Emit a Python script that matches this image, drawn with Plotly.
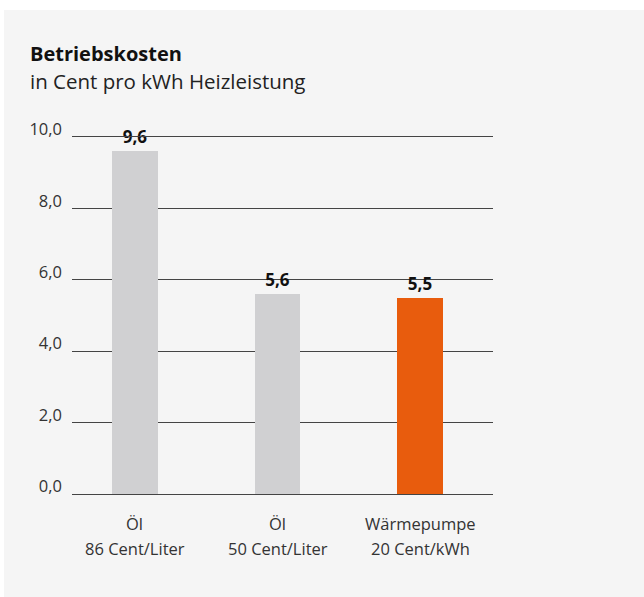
import plotly.graph_objects as go

# Operating costs per kWh of heat output
categories = ["Öl", "Öl", "Wärmepumpe"]
prices = ["86 Cent/Liter", "50 Cent/Liter", "20 Cent/kWh"]
costs = [9.6, 5.6, 5.5]
bar_colors = ["#d0d0d2", "#d0d0d2", "#e85c0d"]
y_ticks = [0, 2, 4, 6, 8, 10]

FONT = "'Open Sans', Lato, sans-serif"
W, H = 644, 597
L, R, T, B = 72, 151, 137, 103
PW, PH = W - L - R, H - T - B


def px_x(x):
    return (x - L) / PW


def px_y(y):
    return (H - B - y) / PH


x_pos = list(range(len(categories)))

fig = go.Figure()
fig.add_trace(go.Bar(
    x=x_pos,
    y=costs,
    width=0.32,
    marker=dict(color=bar_colors, line=dict(width=0)),
    text=[f"{v:.1f}".replace(".", ",") for v in costs],
    textposition="outside",
    textfont=dict(family=FONT, size=17, color="#111111", weight="bold"),
    cliponaxis=False,
    hoverinfo="skip",
))

# two-line category labels under the axis
for i, (cat, price) in enumerate(zip(categories, prices)):
    fig.add_annotation(x=i, y=0, xref="x", yref="y", text=cat, showarrow=False,
                       yshift=-29, font=dict(family=FONT, size=16.5, color="#333333"))
    fig.add_annotation(x=i, y=0, xref="x", yref="y", text=price, showarrow=False,
                       yshift=-54, font=dict(family=FONT, size=16.5, color="#333333"))

# title block
fig.add_annotation(x=px_x(28), y=px_y(54), xref="paper", yref="paper",
                   text="<b>Betriebskosten</b>", showarrow=False,
                   xanchor="left", yanchor="middle",
                   font=dict(family=FONT, size=20, color="#111111"))
fig.add_annotation(x=px_x(28), y=px_y(81), xref="paper", yref="paper",
                   text="in Cent pro kWh Heizleistung", showarrow=False,
                   xanchor="left", yanchor="middle",
                   font=dict(family=FONT, size=20.5, color="#222222"))

fig.update_layout(
    width=W, height=H,
    margin=dict(l=L, r=R, t=T, b=B),
    paper_bgcolor="white",
    plot_bgcolor="#f5f5f5",
    separators=",.",
    showlegend=False,
    bargap=0,
    shapes=[dict(type="rect", xref="paper", yref="paper",
                 x0=px_x(4), x1=px_x(W + 2), y0=px_y(H + 2), y1=px_y(10),
                 fillcolor="#f5f5f5", line=dict(width=0), layer="below")],
    # bottom and mirrored top axis lines give the 0 and 10 rules
    xaxis=dict(range=[-0.44, 2.51], showgrid=False, zeroline=False, showticklabels=False,
               showline=True, mirror=True, linecolor="#444444", linewidth=1,
               ticks="", fixedrange=True),
    yaxis=dict(range=[0, 10], tickvals=y_ticks, tickformat=".1f",
               showgrid=True, gridcolor="#444444", gridwidth=1,
               zeroline=False, showline=False, ticks="",
               ticklabelposition="outside top", ticklabelstandoff=9,
               ticklabelshift=4,
               tickfont=dict(family=FONT, size=16.5, color="#333333")),
)

fig.write_html("out.html")
